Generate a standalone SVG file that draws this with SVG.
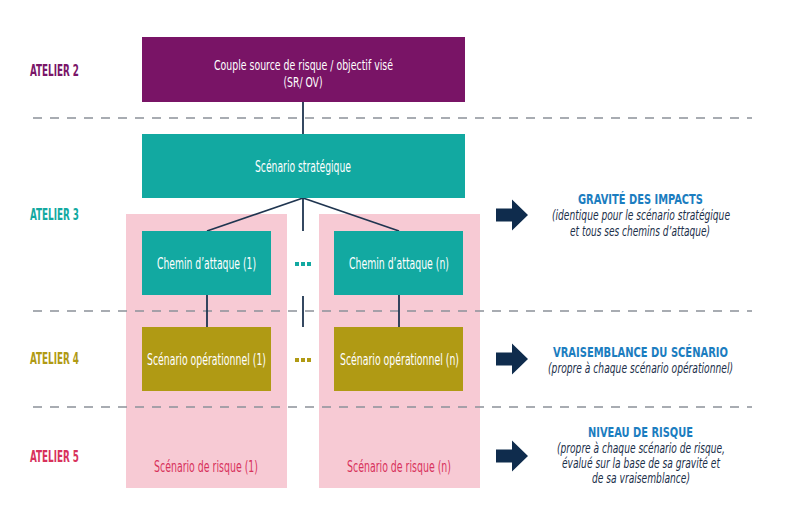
<svg xmlns="http://www.w3.org/2000/svg" width="800" height="528" viewBox="0 0 800 528">
<style>
text{font-family:"Liberation Sans Narrow","DejaVu Sans Condensed","Liberation Sans",sans-serif;}
.n{fill:#ffffff;font-size:15px;text-anchor:middle;}
.n2{fill:#ffffff;font-size:14px;text-anchor:middle;}
.at{font-size:15px;font-weight:bold;}
.h{fill:#1b7dc0;font-size:14.5px;font-weight:bold;text-anchor:middle;}
.s{fill:#1b2f4a;font-size:13.5px;font-style:italic;text-anchor:middle;}
.dash{stroke:#8c9199;stroke-width:1.3;stroke-dasharray:9 8;fill:none;}
.c{stroke:#1f3550;stroke-width:1.8;fill:none;}
.pink{fill:#f7cad4;}
.arr{fill:#0f2c4d;}
</style>
<defs>
<path id="arrow" d="M0,-6.5 L16,-6.5 L16,-15.5 L32,0 L16,15.5 L16,6.5 L0,6.5 Z"/>
</defs>
<rect width="800" height="528" fill="#ffffff"/>

<g id="pink-boxes">
<rect id="risque-1" class="pink" x="126" y="214" width="161" height="274"/>
<rect id="risque-n" class="pink" x="319" y="214" width="161" height="274"/>
</g>

<g id="separators">
<line class="dash" x1="33" y1="118" x2="752" y2="118"/>
<line class="dash" x1="33" y1="311" x2="752" y2="311"/>
<line class="dash" x1="33" y1="407" x2="752" y2="407"/>
</g>

<g id="connectors">
<line class="c" x1="303" y1="102" x2="303" y2="134"/>
<line class="c" x1="303" y1="198" x2="207" y2="231"/>
<line class="c" x1="303" y1="198" x2="399" y2="231"/>
<line class="c" x1="303" y1="198" x2="303" y2="231"/>
<line class="c" x1="303" y1="296" x2="303" y2="327"/>
<line class="c" x1="207" y1="295" x2="207" y2="327"/>
<line class="c" x1="399" y1="295" x2="399" y2="327"/>
</g>

<g id="srov">
<rect x="142" y="37" width="323" height="65" fill="#791466"/>
<text class="n2" x="303.5" y="70" textLength="179" lengthAdjust="spacingAndGlyphs">Couple source de risque / objectif visé</text>
<text class="n2" x="303" y="86.5" textLength="39" lengthAdjust="spacingAndGlyphs">(SR/ OV)</text>
</g>

<g id="strategique">
<rect x="142" y="134" width="323" height="64" fill="#12a9a1"/>
<text class="n" x="303" y="172" textLength="96" lengthAdjust="spacingAndGlyphs">Scénario stratégique</text>
</g>

<g id="chemin-1">
<rect x="142" y="231" width="129" height="64" fill="#12a9a1"/>
<text class="n" x="206.5" y="269" textLength="99" lengthAdjust="spacingAndGlyphs">Chemin d’attaque (1)</text>
</g>
<g id="chemin-n">
<rect x="334" y="231" width="129" height="64" fill="#12a9a1"/>
<text class="n" x="399" y="269" textLength="100" lengthAdjust="spacingAndGlyphs">Chemin d’attaque (n)</text>
</g>
<g id="dots-chemin">
<rect x="295" y="262" width="4" height="4" fill="#12a9a1"/>
<rect x="301" y="262" width="4" height="4" fill="#12a9a1"/>
<rect x="307" y="262" width="4" height="4" fill="#12a9a1"/>
</g>

<g id="operationnel-1">
<rect x="142" y="327" width="129" height="64" fill="#b09a14"/>
<text class="n" x="206.5" y="365" textLength="119" lengthAdjust="spacingAndGlyphs">Scénario opérationnel (1)</text>
</g>
<g id="operationnel-n">
<rect x="334" y="327" width="129" height="64" fill="#b09a14"/>
<text class="n" x="399.5" y="365" textLength="119" lengthAdjust="spacingAndGlyphs">Scénario opérationnel (n)</text>
</g>
<g id="dots-operationnel">
<rect x="295" y="358" width="4" height="4" fill="#b09a14"/>
<rect x="301" y="358" width="4" height="4" fill="#b09a14"/>
<rect x="307" y="358" width="4" height="4" fill="#b09a14"/>
</g>

<g id="risque-labels">
<text x="206" y="472" fill="#d8325c" font-size="15" text-anchor="middle" textLength="104" lengthAdjust="spacingAndGlyphs">Scénario de risque (1)</text>
<text x="399" y="472" fill="#d8325c" font-size="15" text-anchor="middle" textLength="104" lengthAdjust="spacingAndGlyphs">Scénario de risque (n)</text>
</g>

<g id="ateliers">
<text class="at" x="30" y="76" fill="#7a1568" textLength="49" lengthAdjust="spacingAndGlyphs">ATELIER 2</text>
<text class="at" x="30" y="220" fill="#12a9a1" textLength="49" lengthAdjust="spacingAndGlyphs">ATELIER 3</text>
<text class="at" x="30" y="364" fill="#b09a14" textLength="49" lengthAdjust="spacingAndGlyphs">ATELIER 4</text>
<text class="at" x="30" y="462" fill="#d8325c" textLength="49" lengthAdjust="spacingAndGlyphs">ATELIER 5</text>
</g>

<g id="gravite">
<use href="#arrow" class="arr" transform="translate(496,215)"/>
<text class="h" x="640.5" y="203.5" textLength="125" lengthAdjust="spacingAndGlyphs">GRAVITÉ DES IMPACTS</text>
<text class="s" x="641" y="220" textLength="178" lengthAdjust="spacingAndGlyphs">(identique pour le scénario stratégique</text>
<text class="s" x="640" y="236" textLength="140" lengthAdjust="spacingAndGlyphs">et tous ses chemins d’attaque)</text>
</g>

<g id="vraisemblance">
<use href="#arrow" class="arr" transform="translate(496,359)"/>
<text class="h" x="640.5" y="356.5" textLength="175" lengthAdjust="spacingAndGlyphs">VRAISEMBLANCE DU SCÉNARIO</text>
<text class="s" x="640.5" y="372.5" textLength="185" lengthAdjust="spacingAndGlyphs">(propre à chaque scénario opérationnel)</text>
</g>

<g id="niveau">
<use href="#arrow" class="arr" transform="translate(496,456)"/>
<text class="h" x="640.5" y="436.5" textLength="105" lengthAdjust="spacingAndGlyphs">NIVEAU DE RISQUE</text>
<text class="s" x="641" y="453" textLength="168" lengthAdjust="spacingAndGlyphs">(propre à chaque scénario de risque,</text>
<text class="s" x="641" y="468" textLength="158" lengthAdjust="spacingAndGlyphs">évalué sur la base de sa gravité et</text>
<text class="s" x="641" y="483" textLength="98" lengthAdjust="spacingAndGlyphs">de sa vraisemblance)</text>
</g>
</svg>
